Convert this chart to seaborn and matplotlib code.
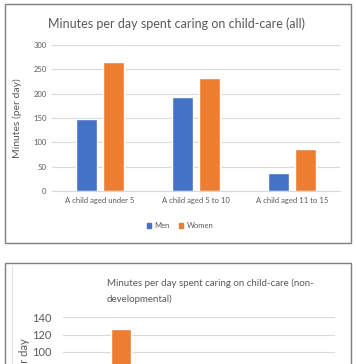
import pandas as pd
import numpy as np
import matplotlib.pyplot as plt
import seaborn as sns
from matplotlib.patches import Rectangle
from matplotlib.lines import Line2D

categories = ['A child aged under 5', 'A child aged 5 to 10', 'A child aged 11 to 15']
sexes = ['Men', 'Women']
men_all = [148, 193, 36]
women_all = [265, 232, 87]
# second chart is cut off, only the first women bar is readable
men_nd = [55, 40, 12]
women_nd = [126, 75, 30]

blue = '#4472C4'
orange = '#ED7D31'
grey_txt = '#595959'
grid_col = '#D9D9D9'

sns.set_style('white')
plt.rcParams['font.family'] = ['Lato', 'DejaVu Sans']

W, H = 356, 364
fig = plt.figure(figsize=(W / 100, H / 100), dpi=100)


def fx(px):
    return px / W


def fy(py):
    return 1 - py / H


def long_df(men, women):
    return pd.DataFrame({
        'category': categories * 2,
        'sex': ['Men'] * 3 + ['Women'] * 3,
        'minutes': list(men) + list(women),
    })


######## top chart ########
fig.patches.append(Rectangle((fx(5), fy(243)), fx(346), 239 / H, transform=fig.transFigure,
                             fill=False, edgecolor='#7F7F7F', lw=1.0))

ax1 = fig.add_axes([fx(52), fy(191), fx(288), 146 / H])
sns.barplot(data=long_df(men_all, women_all), x='category', y='minutes', hue='sex',
            palette=[blue, orange], saturation=1, width=0.55, gap=0.2, ax=ax1, legend=False)
ax1.set_xlim(-0.5, 2.5)
ax1.set_ylim(0, 300)
ax1.set_yticks(np.arange(0, 301, 50))
ax1.yaxis.grid(True, color=grid_col, lw=0.8)
ax1.set_axisbelow(True)
for s in ['top', 'right', 'left']:
    ax1.spines[s].set_visible(False)
ax1.spines['bottom'].set_color(grid_col)
ax1.tick_params(axis='both', length=0, labelsize=5.5, labelcolor=grey_txt, pad=4)
ax1.set_xlabel('')
ax1.set_ylabel('Minutes (per day)', fontsize=7.5, color=grey_txt, labelpad=8)
fig.text(fx(177), fy(24), 'Minutes per day spent caring on child-care (all)',
         ha='center', va='center', fontsize=9, color=grey_txt)

handles = [Rectangle((0, 0), 1, 1, color=blue), Rectangle((0, 0), 1, 1, color=orange)]
fig.legend(handles, sexes, loc='center', bbox_to_anchor=(fx(180), fy(226)), ncol=2,
           frameon=False, fontsize=5.5, labelcolor=grey_txt, handlelength=0.6,
           handleheight=0.6, handletextpad=0.4, columnspacing=1.2)

######## bottom chart (cut off) ########
fig.patches.append(Rectangle((fx(5), -0.2), fx(346), fy(263) + 0.2, transform=fig.transFigure,
                             fill=False, edgecolor='#7F7F7F', lw=1.0))
fig.lines.append(Line2D([fx(12), fx(12)], [-0.2, fy(266)], transform=fig.transFigure,
                        color='#E4E4E4', lw=0.8))

ax2 = fig.add_axes([fx(63), fy(439.5), fx(272), 122.5 / H])
sns.barplot(data=long_df(men_nd, women_nd), x='category', y='minutes', hue='sex',
            palette=[blue, orange], saturation=1, width=0.55, gap=0.2, ax=ax2, legend=False)
ax2.set_xlim(-0.5, 2.5)
ax2.set_ylim(0, 140)
ax2.set_yticks(np.arange(0, 141, 20))
ax2.yaxis.grid(True, color=grid_col, lw=0.8)
ax2.set_axisbelow(True)
for s in ['top', 'right', 'left']:
    ax2.spines[s].set_visible(False)
ax2.tick_params(axis='y', length=0, labelsize=8, labelcolor=grey_txt, pad=8)
ax2.tick_params(axis='x', length=0, labelbottom=False)
ax2.set_xlabel('')
ax2.set_ylabel('Minutes per day', fontsize=8, color=grey_txt, labelpad=2)
fig.text(fx(107), fy(291.5), 'Minutes per day spent caring on child-care (non-\ndevelopmental)',
         ha='left', va='center', fontsize=7, color=grey_txt, linespacing=1.8)

fig.savefig('out.png', dpi=100)
